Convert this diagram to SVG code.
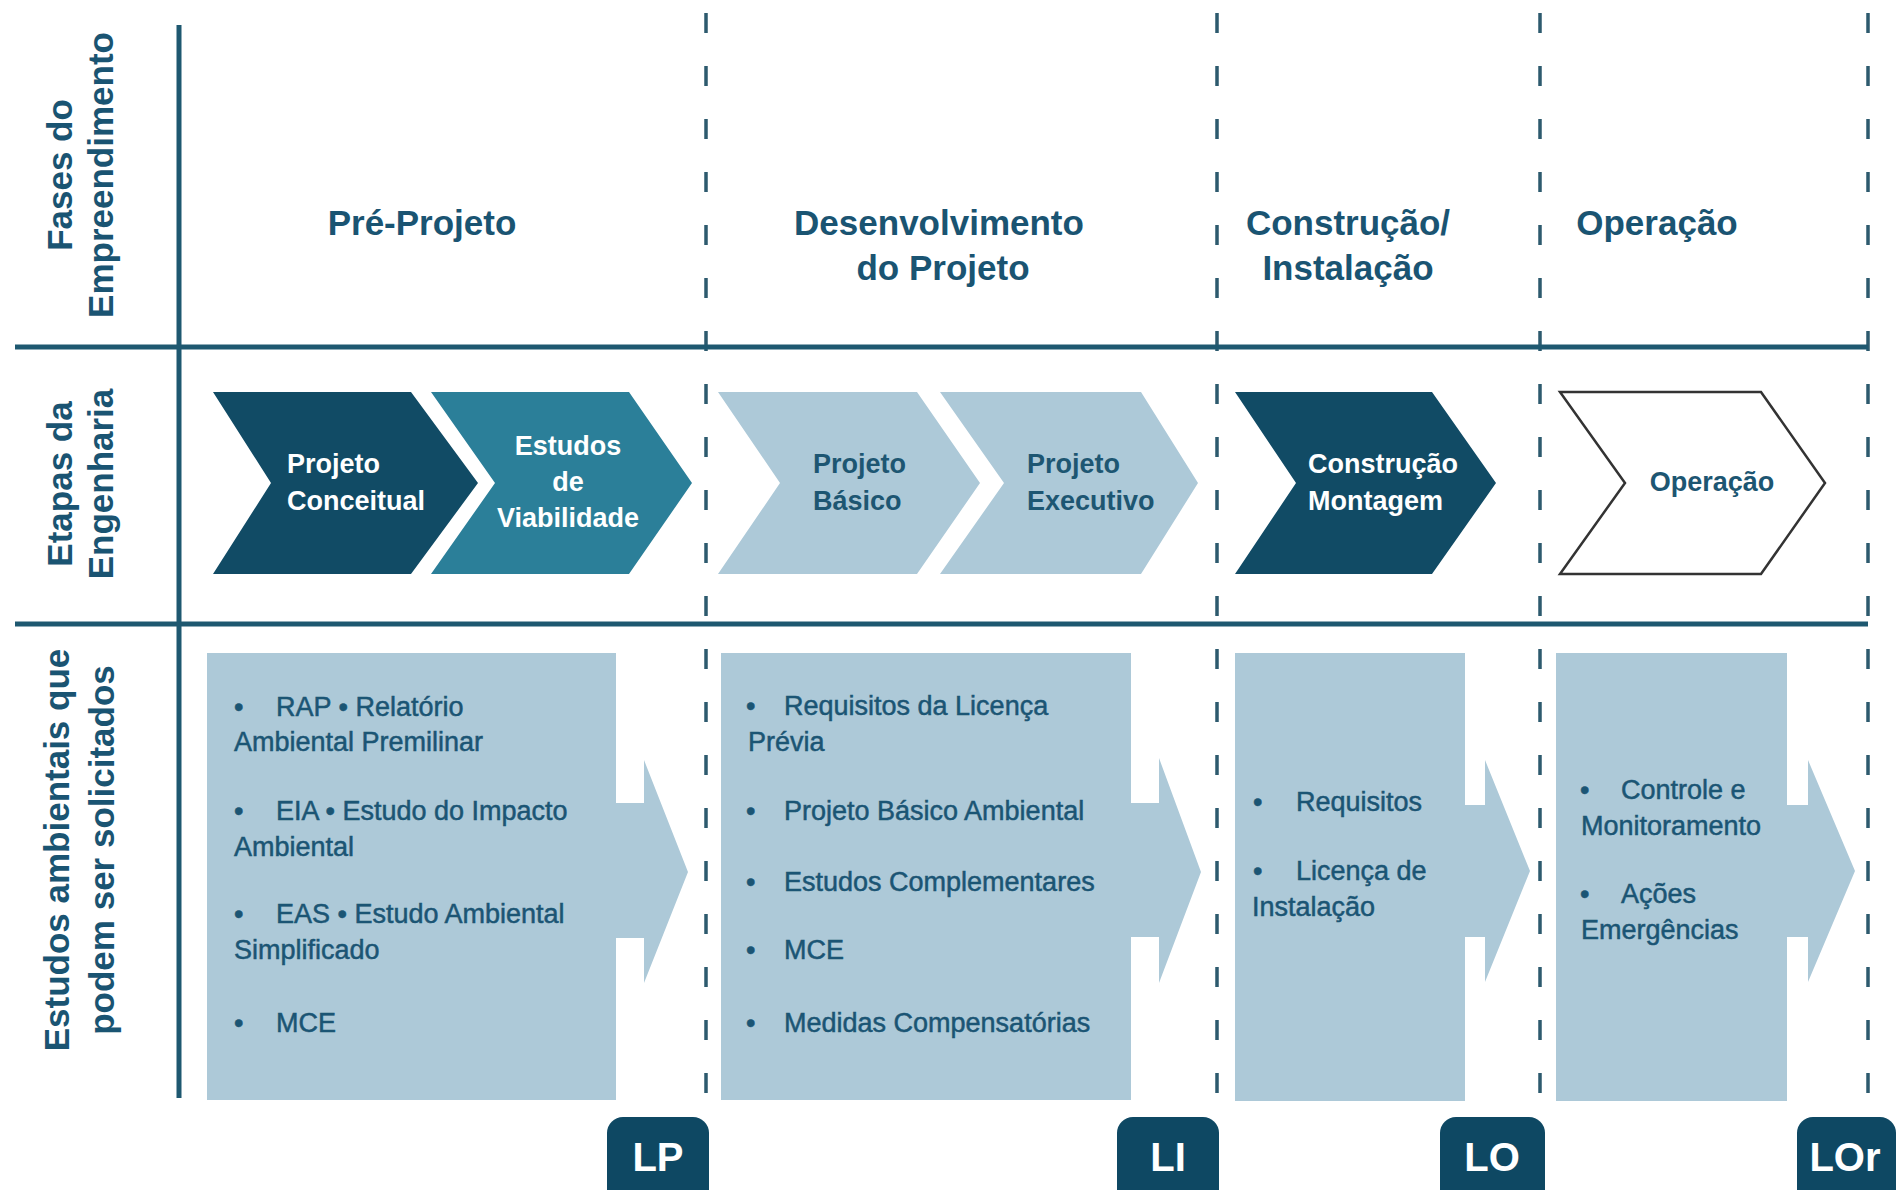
<svg xmlns="http://www.w3.org/2000/svg" width="1898" height="1190" viewBox="0 0 1898 1190">
<style>
.hdr{font-family:"Liberation Sans",Arial,sans-serif;font-weight:bold;font-size:35px;fill:#1a5472;text-anchor:middle}
.side{font-family:"Liberation Sans",Arial,sans-serif;font-weight:bold;font-size:35px;fill:#1a5472;text-anchor:middle}
.chw{font-family:"Liberation Sans",Arial,sans-serif;font-weight:bold;font-size:27px;fill:#ffffff}
.chd{font-family:"Liberation Sans",Arial,sans-serif;font-weight:bold;font-size:27px;fill:#1d5672}
.bx{font-family:"Liberation Sans",Arial,sans-serif;font-size:27px;fill:#1b5574;stroke:#1b5574;stroke-width:0.5}
.badge{fill:#0e4863}
.bt{font-family:"Liberation Sans",Arial,sans-serif;font-weight:bold;font-size:40px;fill:#ffffff;text-anchor:middle}
.solid{stroke:#1e5870;stroke-width:5;fill:none}
.dash{stroke:#2d5a6e;stroke-width:3.5;stroke-dasharray:20 33;fill:none}
.box{fill:#adc9d8}
</style>
<rect width="1898" height="1190" fill="#ffffff"/>

<g id="connectors">
<line class="dash" x1="706" y1="13" x2="706" y2="1115"/>
<line class="dash" x1="1217" y1="13" x2="1217" y2="1115"/>
<line class="dash" x1="1540" y1="13" x2="1540" y2="1115"/>
<line class="dash" x1="1868" y1="13" x2="1868" y2="1115"/>
<line class="solid" x1="179" y1="25" x2="179" y2="1098"/>
<line class="solid" x1="15" y1="347" x2="1868" y2="347"/>
<line class="solid" x1="15" y1="624" x2="1868" y2="624"/>
</g>

<g id="row-labels">
<text class="side" transform="translate(72,175) rotate(-90)">Fases do</text>
<text class="side" transform="translate(113,175) rotate(-90)">Empreendimento</text>
<text class="side" transform="translate(72,484) rotate(-90)">Etapas da</text>
<text class="side" transform="translate(113,484) rotate(-90)">Engenharia</text>
<text class="side" transform="translate(69,850) rotate(-90)">Estudos ambientais que</text>
<text class="side" transform="translate(114,850) rotate(-90)">podem ser solicitados</text>
</g>

<g id="phase-preprojeto"><text class="hdr" x="422" y="235">Pré-Projeto</text></g>
<g id="phase-desenvolvimento"><text class="hdr" x="939" y="235">Desenvolvimento</text><text class="hdr" x="943" y="280">do Projeto</text></g>
<g id="phase-construcao"><text class="hdr" x="1348" y="235">Construção/</text><text class="hdr" x="1348" y="280">Instalação</text></g>
<g id="phase-operacao"><text class="hdr" x="1657" y="235">Operação</text></g>

<g id="step-conceitual">
<polygon points="213,392 411,392 478,483 411,574 213,574 271,483" fill="#114b65"/>
<text class="chw" x="287" y="473">Projeto</text><text class="chw" x="287" y="510">Conceitual</text>
</g>
<g id="step-viabilidade">
<polygon points="431,392 629,392 692,483 629,574 431,574 495,483" fill="#2b7f99"/>
<text class="chw" x="568" y="455" text-anchor="middle">Estudos</text>
<text class="chw" x="568" y="491" text-anchor="middle">de</text>
<text class="chw" x="568" y="527" text-anchor="middle">Viabilidade</text>
</g>
<g id="step-basico">
<polygon points="718,392 917,392 980,483 917,574 718,574 780,483" fill="#adc9d8"/>
<text class="chd" x="813" y="473">Projeto</text><text class="chd" x="813" y="510">Básico</text>
</g>
<g id="step-executivo">
<polygon points="940,392 1141,392 1198,483 1141,574 940,574 1004,483" fill="#adc9d8"/>
<text class="chd" x="1027" y="473">Projeto</text><text class="chd" x="1027" y="510">Executivo</text>
</g>
<g id="step-construcao">
<polygon points="1235,392 1432,392 1496,483 1432,574 1235,574 1296,483" fill="#114b65"/>
<text class="chw" x="1308" y="473">Construção</text><text class="chw" x="1308" y="510">Montagem</text>
</g>
<g id="step-operacao">
<polygon points="1560,392 1761,392 1825,483 1761,574 1560,574 1625,483" fill="#ffffff" stroke="#333333" stroke-width="2.5"/>
<text class="chd" x="1712" y="491" text-anchor="middle">Operação</text>
</g>

<g id="studies-preprojeto">
<path class="box" d="M207,653 H616 V803 H644 V760 L688,872 L644,983 V938 H616 V1100 H207 Z"/>
<text class="bx" x="234" y="716">•</text><text class="bx" x="276" y="716">RAP • Relatório</text>
<text class="bx" x="234" y="751">Ambiental Premilinar</text>
<text class="bx" x="234" y="820">•</text><text class="bx" x="276" y="820">EIA • Estudo do Impacto</text>
<text class="bx" x="234" y="856">Ambiental</text>
<text class="bx" x="234" y="923">•</text><text class="bx" x="276" y="923">EAS • Estudo Ambiental</text>
<text class="bx" x="234" y="959">Simplificado</text>
<text class="bx" x="234" y="1032">•</text><text class="bx" x="276" y="1032">MCE</text>
</g>
<g id="studies-desenvolvimento">
<path class="box" d="M721,653 H1131 V803 H1159 V758 L1201,872 L1159,983 V937 H1131 V1100 H721 Z"/>
<text class="bx" x="746" y="715">•</text><text class="bx" x="784" y="715">Requisitos da Licença</text>
<text class="bx" x="748" y="751">Prévia</text>
<text class="bx" x="746" y="820">•</text><text class="bx" x="784" y="820">Projeto Básico Ambiental</text>
<text class="bx" x="746" y="891">•</text><text class="bx" x="784" y="891">Estudos Complementares</text>
<text class="bx" x="746" y="959">•</text><text class="bx" x="784" y="959">MCE</text>
<text class="bx" x="746" y="1032">•</text><text class="bx" x="784" y="1032">Medidas Compensatórias</text>
</g>
<g id="studies-construcao">
<path class="box" d="M1235,653 H1465 V805 H1485 V760 L1530,871 L1485,982 V937 H1465 V1101 H1235 Z"/>
<text class="bx" x="1253" y="811">•</text><text class="bx" x="1296" y="811">Requisitos</text>
<text class="bx" x="1253" y="880">•</text><text class="bx" x="1296" y="880">Licença de</text>
<text class="bx" x="1252" y="916">Instalação</text>
</g>
<g id="studies-operacao">
<path class="box" d="M1556,653 H1787 V805 H1808 V760 L1855,871 L1808,982 V937 H1787 V1101 H1556 Z"/>
<text class="bx" x="1580" y="799">•</text><text class="bx" x="1621" y="799">Controle e</text>
<text class="bx" x="1581" y="835">Monitoramento</text>
<text class="bx" x="1580" y="903">•</text><text class="bx" x="1621" y="903">Ações</text>
<text class="bx" x="1581" y="939">Emergências</text>
</g>

<g id="license-lp"><rect class="badge" x="607" y="1117" width="102" height="100" rx="16"/><text class="bt" x="658" y="1171">LP</text></g>
<g id="license-li"><rect class="badge" x="1117" y="1117" width="102" height="100" rx="16"/><text class="bt" x="1168" y="1171">LI</text></g>
<g id="license-lo"><rect class="badge" x="1440" y="1117" width="105" height="100" rx="16"/><text class="bt" x="1492" y="1171">LO</text></g>
<g id="license-lor"><rect class="badge" x="1797" y="1117" width="99" height="100" rx="16"/><text class="bt" x="1845" y="1171">LOr</text></g>
</svg>
